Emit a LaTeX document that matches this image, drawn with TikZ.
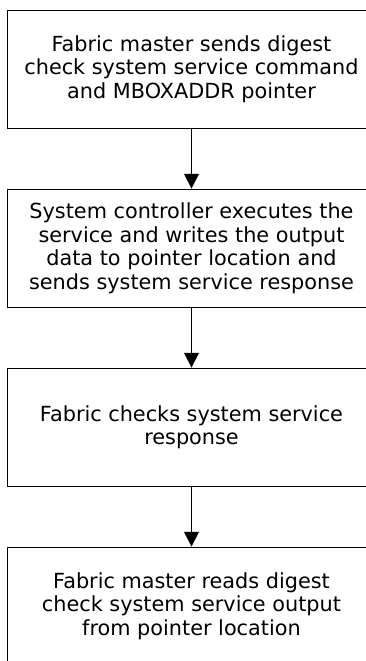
\documentclass[tikz,border=0pt]{standalone}
\usepackage{fontspec}
\setmainfont{DejaVu Sans}
\usetikzlibrary{arrows.meta}
\tikzset{
  stepbox/.style={draw=black, line width=0.9pt, fill=white,
    minimum width=368*0.75pt, minimum height=118*0.75pt,
    align=center, inner sep=0pt,
    font=\fontsize{15.6pt}{17.6pt}\selectfont},
  flow/.style={line width=0.9pt, -{Triangle[length=11pt,width=11pt]}}
}
\begin{document}
\begin{tikzpicture}[x=0.75pt,y=-0.75pt]
\useasboundingbox (0,0) rectangle (366,661);
\clip (0,0) rectangle (366,661);
\node[stepbox] (s1) at (191.5,69.2) {Fabric master sends digest\\check system service command\\and MBOXADDR pointer};
\node[stepbox] (s2) at (191.5,248.2) {System controller executes the\\service and writes the output\\data to pointer location and\\sends system service response};
\node[stepbox] (s3) at (191.5,427.2) {Fabric checks system service\\response};
\node[stepbox] (s4) at (191.5,606.2) {Fabric master reads digest\\check system service output\\from pointer location};
\draw[flow] (s1) -- (s2);
\draw[flow] (s2) -- (s3);
\draw[flow] (s3) -- (s4);
\end{tikzpicture}
\end{document}
